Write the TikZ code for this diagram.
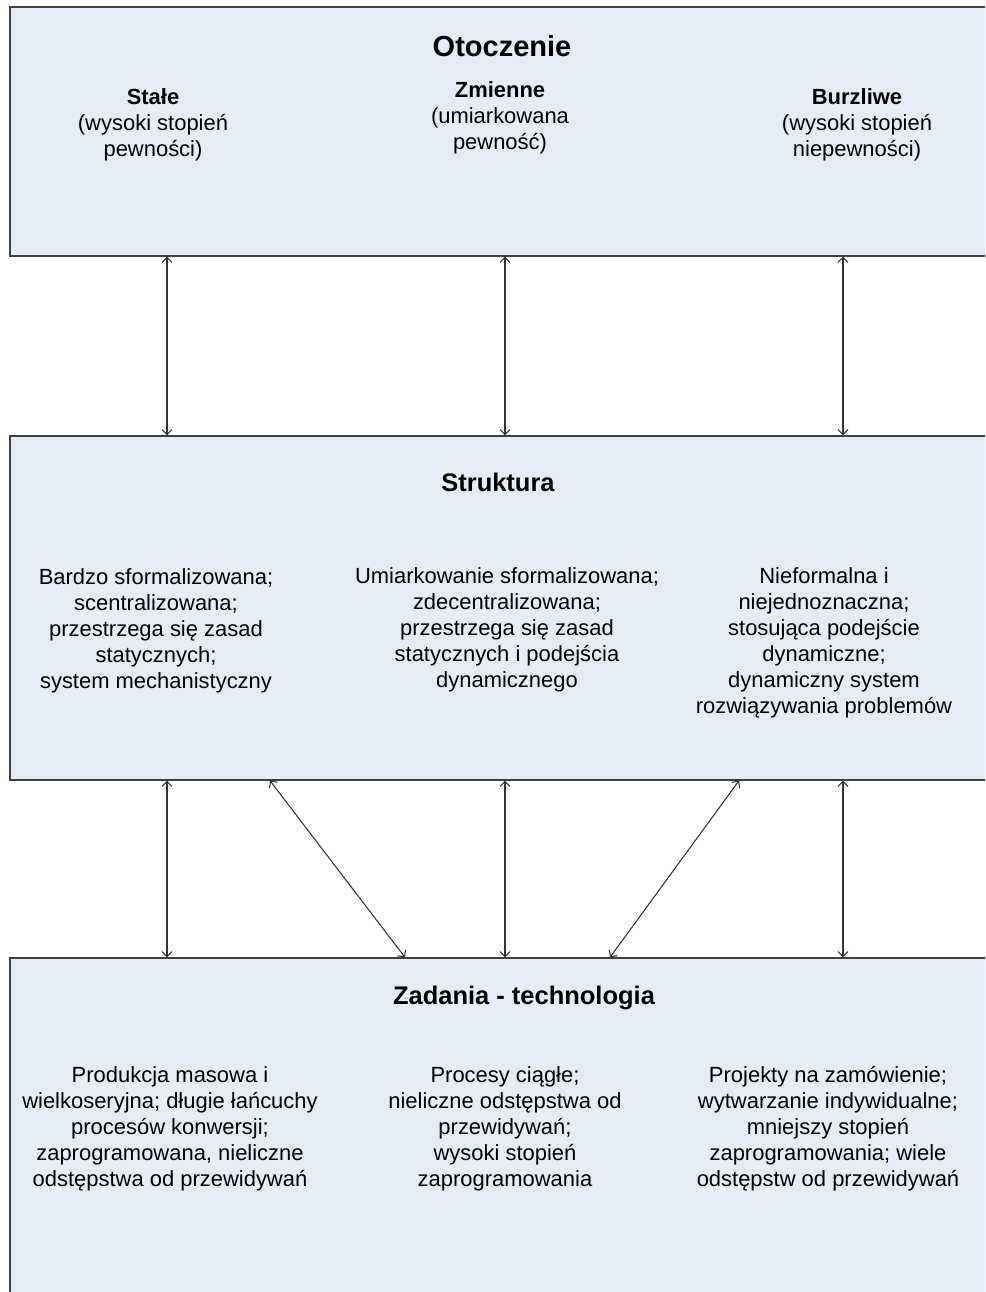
\documentclass[tikz,border=0pt]{standalone}
\usepackage{fontspec}
\setmainfont{Liberation Sans}
\usetikzlibrary{arrows.meta,positioning,calc}
\definecolor{boxfill}{RGB}{230,236,246}
\definecolor{boxline}{RGB}{64,64,64}
\tikzset{
  pan/.style={draw=boxline, fill=boxfill, line width=0.8pt, minimum width=19.8cm, inner sep=0pt},
  ttl/.style={font=\fontsize{14.5}{17}\selectfont\bfseries},
  txt/.style={align=center, font=\fontsize{12.5}{14.75}\selectfont, inner sep=0pt},
  lnk/.style={{Straight Barb[length=1mm,width=2mm]}-{Straight Barb[length=1mm,width=2mm]}, black!80, line width=0.6pt},
}
\begin{document}
\begin{tikzpicture}[x=0.02cm, y=-0.02cm]
    \useasboundingbox (0,0) rectangle (985,1292);
    \clip (0,0) rectangle (985,1292);
    \node[pan, minimum height=4.98cm] (oto) at (505,131.5) {};
    \node[pan, minimum height=6.88cm] (str) at (505,608) {};
    \node[pan, minimum height=7.04cm] (zad) at (505,1134) {};
    \node[ttl, font=\fontsize{16.5}{19}\selectfont\bfseries] (otot) at (502,46) {Otoczenie};
    \node[txt] (stale) at (153,125) {\textbf{Stałe}\\(wysoki stopień\\pewności)};
    \node[txt] (zmienne) at (500,118) {\textbf{Zmienne}\\(umiarkowana\\pewność)};
    \node[txt] (burzl) at (857,125) {\textbf{Burzliwe}\\(wysoki stopień\\niepewności)};
    \node[ttl] (strt) at (498,482) {Struktura};
    \node[txt] (s1) at (156,631) {Bardzo sformalizowana;\\scentralizowana;\\przestrzega się zasad\\statycznych;\\system mechanistyczny};
    \node[txt] (s2) at (507,630) {Umiarkowanie sformalizowana;\\zdecentralizowana;\\przestrzega się zasad\\statycznych i podejścia\\dynamicznego};
    \node[txt] (s3) at (824,643) {Nieformalna i\\niejednoznaczna;\\stosująca podejście\\dynamiczne;\\dynamiczny system\\rozwiązywania problemów};
    \node[ttl] (zadt) at (524,998) {Zadania - technologia};
    \node[txt] (z1) at (170,1129) {Produkcja masowa i\\wielkoseryjna; długie łańcuchy\\procesów konwersji;\\zaprogramowana, nieliczne\\odstępstwa od przewidywań};
    \node[txt] (z2) at (505,1129) {Procesy ciągłe;\\nieliczne odstępstwa od\\przewidywań;\\wysoki stopień\\zaprogramowania};
    \node[txt] (z3) at (828,1129) {Projekty na zamówienie;\\wytwarzanie indywidualne;\\mniejszy stopień\\zaprogramowania; wiele\\odstępstw od przewidywań};
    \foreach \x in {167,505,843} {
      \draw[lnk] (oto.south -| \x,0) -- (str.north -| \x,0);
      \draw[lnk] (str.south -| \x,0) -- (zad.north -| \x,0);
    }
    \draw[lnk] (str.south -| 270,0) -- (zad.north -| 405,0);
    \draw[lnk] (str.south -| 739,0) -- (zad.north -| 610,0);
\end{tikzpicture}
\end{document}
